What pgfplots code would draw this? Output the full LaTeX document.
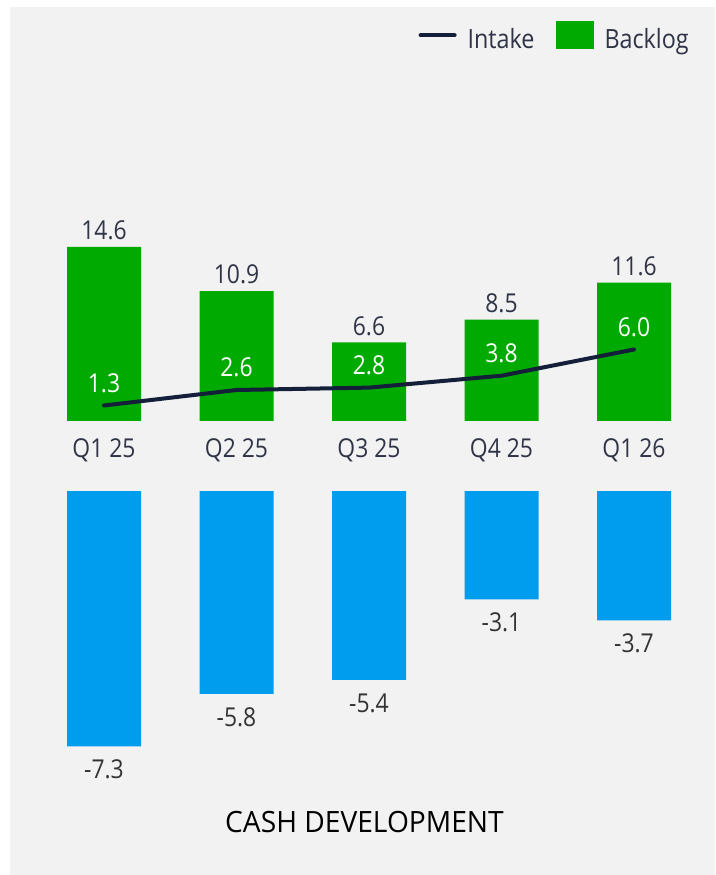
\documentclass[border=0pt]{standalone}
\usepackage{pgfplots}
\pgfplotsset{compat=1.18}
\usepackage{fontspec}
\setmainfont{Open Sans}[FakeStretch=0.88]
\newfontfamily\titlefont{Open Sans}[FakeStretch=0.96]
\definecolor{bg}{HTML}{F2F2F2}
\definecolor{barGreen}{HTML}{00AA00}
\definecolor{barBlue}{HTML}{009DEF}
\definecolor{navy}{HTML}{14203A}
\definecolor{labelc}{HTML}{2F3447}
\definecolor{labeld}{HTML}{333333}
\pgfplotsset{
  /pgf/number format/.cd, fixed, fixed zerofill, precision=1, assume math mode=true,
}
\begin{document}
\begin{tikzpicture}
\fill[white] (0pt,0pt) rectangle (536.25pt,656.25pt);
\fill[bg] (7.5pt,0pt) rectangle (536.25pt,651pt);
\useasboundingbox (0pt,0pt) rectangle (536.25pt,656.25pt);

% ---------- top axis: Backlog bars and Intake line ----------
\begin{axis}[
  at={(28.3125pt,340.5pt)}, anchor=south west,
  scale only axis, width=496.875pt, height=143.04pt,
  xmin=-0.5, xmax=4.5, ymin=0, ymax=16,
  axis line style={draw=none}, major tick length=0pt,
  xtick={0,1,2,3,4},
  xticklabels={Q1 25,Q2 25,Q3 25,Q4 25,Q1 26},
  ytick=\empty,
  font=\fontsize{19.5}{23}\selectfont,
  xticklabel style={anchor=base, yshift=-27.75pt, text=labelc},
  clip=false,
  legend columns=2, reverse legend,
  legend style={draw=none, fill=none, at={(0.989,2.019)}, anchor=east,
    font=\fontsize{19.875}{24}\selectfont, text=labelc,
    nodes={inner sep=0pt},
    /tikz/every odd column/.append style={column sep=8.25pt},
    /tikz/every even column/.append style={column sep=15.75pt}},
]
\addplot[ybar, bar width=55.5pt, bar shift=0pt, fill=barGreen, draw=none,
  nodes near coords,
  nodes near coords style={anchor=south, inner sep=0pt, yshift=5pt, text=labelc},
  legend image code/.code={\fill[barGreen] (0pt,-7.15pt) rectangle (28.5pt,13.85pt);}]
  coordinates {(0,14.6) (1,10.9) (2,6.6) (3,8.5) (4,11.6)};
\addplot[color=navy, line width=3pt, line join=round, line cap=round, mark=none,
  nodes near coords,
  nodes near coords style={anchor=south, inner sep=0pt, yshift=8pt, text=white},
  legend image code/.code={\draw[navy, line width=3pt, line cap=round] (1.5pt,3.35pt) -- (27pt,3.35pt);}]
  coordinates {(0,1.3) (1,2.6) (2,2.8) (3,3.8) (4,6.0)};
\legend{Backlog, Intake}
\end{axis}

% ---------- bottom axis: Cash development ----------
\begin{axis}[
  at={(28.3125pt,78pt)}, anchor=south west,
  scale only axis, width=496.875pt, height=210pt,
  xmin=-0.5, xmax=4.5, ymin=-8, ymax=0,
  axis line style={draw=none}, major tick length=0pt,
  xtick=\empty, ytick=\empty,
  font=\fontsize{19.5}{23}\selectfont,
  clip=false,
  xlabel={CASH DEVELOPMENT},
  xlabel style={at={(axis description cs:0.4932,-0.2179)}, anchor=base,
    font=\titlefont\fontsize{22}{26}\selectfont, text=black},
]
\addplot[ybar, bar width=55.5pt, bar shift=0pt, fill=barBlue, draw=none,
  nodes near coords,
  nodes near coords style={anchor=north, inner sep=0pt, yshift=-10pt, text=labeld}]
  coordinates {(0,-7.3) (1,-5.8) (2,-5.4) (3,-3.1) (4,-3.7)};
\end{axis}
\end{tikzpicture}
\end{document}
